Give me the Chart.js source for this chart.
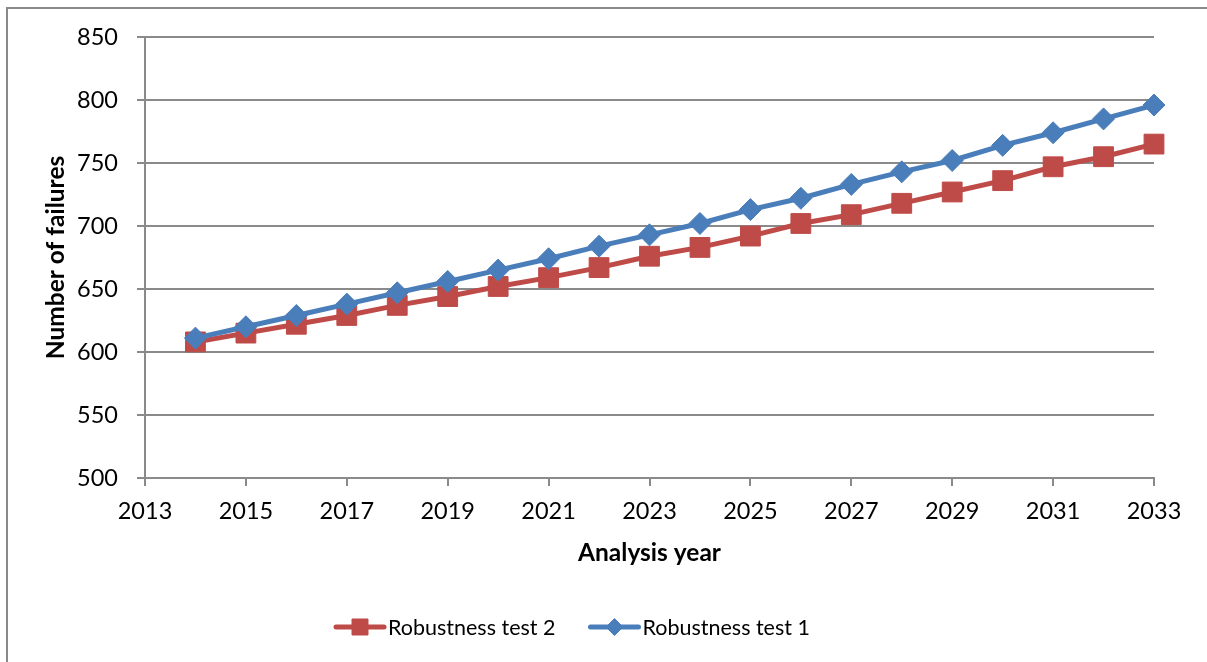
<!DOCTYPE html>
<html>
<head>
<meta charset="utf-8">
<title>Number of failures by analysis year</title>
<script src="https://cdn.jsdelivr.net/npm/chart.js@4.4.1/dist/chart.umd.min.js"></script>
<style>
  html, body { margin: 0; padding: 0; background: #ffffff; }
  canvas { display: block; }
</style>
</head>
<body>
<canvas id="failuresChart" width="1207" height="662"></canvas>
<script>
// Analysis years and failure counts for the two robustness tests
const years = [2014, 2015, 2016, 2017, 2018, 2019, 2020, 2021, 2022, 2023,
               2024, 2025, 2026, 2027, 2028, 2029, 2030, 2031, 2032, 2033];
const robustnessTest1 = [611, 620, 629, 638, 647, 656, 665, 674, 684, 693,
                         702, 713, 722, 733, 743, 752, 764, 774, 785, 796];
const robustnessTest2 = [608, 615, 622, 629, 637, 644, 652, 659, 667, 676,
                         683, 692, 702, 709, 718, 727, 736, 747, 755, 765];
const yearTicks = [2013, 2015, 2017, 2019, 2021, 2023, 2025, 2027, 2029, 2031, 2033];
const seriesNames = ['Robustness test 1', 'Robustness test 2'];

const FONT = 'Lato, "Open Sans", "DejaVu Sans", sans-serif';
const GRID = '#8a8a8a';
const BLUE = '#4a7ebb';
const RED = '#be4b48';

const toPoints = (vals) => years.map((yr, i) => ({ x: yr, y: vals[i] }));

// White page, grey frame on the top and left edges, and the key under the axis
const frameAndKey = {
  id: 'frameAndKey',
  beforeDraw(chart) {
    const ctx = chart.ctx;
    ctx.save();
    ctx.fillStyle = '#ffffff';
    ctx.fillRect(0, 0, chart.width, chart.height);
    ctx.strokeStyle = GRID;
    ctx.lineWidth = 2;
    ctx.beginPath();
    ctx.moveTo(7, chart.height);
    ctx.lineTo(7, 8);
    ctx.lineTo(chart.width, 8);
    ctx.stroke();
    ctx.restore();
  },
  afterDraw(chart) {
    const ctx = chart.ctx;
    const keyY = 627;
    let x = 336;
    ctx.save();
    ctx.font = '21.5px ' + FONT;
    ctx.textBaseline = 'middle';
    ctx.textAlign = 'left';
    // key lists the second series first
    const order = [1, 0];
    const markerSize = { rect: 11.3, rectRot: 8.5 };
    order.forEach((idx) => {
      const ds = chart.data.datasets[idx];
      ctx.strokeStyle = ds.borderColor;
      ctx.lineWidth = 5;
      ctx.lineCap = 'round';
      ctx.beginPath();
      ctx.moveTo(x, keyY);
      ctx.lineTo(x + 48, keyY);
      ctx.stroke();
      ctx.lineCap = 'butt';
      ctx.fillStyle = ds.backgroundColor;
      ctx.strokeStyle = ds.borderColor;
      ctx.lineWidth = 1;
      Chart.helpers.drawPoint(ctx, {
        pointStyle: ds.pointStyle,
        radius: markerSize[ds.pointStyle],
        borderWidth: 1,
        rotation: 0
      }, x + 24, keyY);
      ctx.fillStyle = '#000000';
      ctx.fillText(ds.label, x + 52, keyY + 1);
      x += 52 + ctx.measureText(ds.label).width + 35;
    });
    ctx.restore();
  }
};

new Chart(document.getElementById('failuresChart'), {
  type: 'line',
  data: {
    datasets: [
      {
        label: seriesNames[0],
        data: toPoints(robustnessTest1),
        borderColor: BLUE,
        backgroundColor: BLUE,
        borderWidth: 5,
        pointStyle: 'rectRot',
        pointRadius: 11,
        pointBorderWidth: 1,
        pointHoverRadius: 11,
        tension: 0,
        clip: false
      },
      {
        label: seriesNames[1],
        data: toPoints(robustnessTest2),
        borderColor: RED,
        backgroundColor: RED,
        borderWidth: 5,
        pointStyle: 'rect',
        pointRadius: 14,
        pointBorderWidth: 1,
        pointHoverRadius: 14,
        tension: 0,
        clip: false
      }
    ]
  },
  options: {
    responsive: false,
    animation: false,
    layout: { padding: { top: 37, right: 53, bottom: 84, left: 0 } },
    plugins: {
      legend: { display: false },
      tooltip: { enabled: false }
    },
    scales: {
      x: {
        type: 'linear',
        min: 2013,
        max: 2033,
        afterBuildTicks(scale) {
          scale.ticks = yearTicks.map((v) => ({ value: v }));
        },
        afterFit(scale) { scale.height = 100; },
        grid: {
          display: true,
          drawOnChartArea: false,
          drawTicks: true,
          tickLength: 8,
          color: GRID,
          lineWidth: 2
        },
        border: { display: true, color: GRID, width: 2 },
        ticks: {
          font: { family: FONT, size: 23.5 },
          color: '#000000',
          padding: 11,
          maxRotation: 0,
          autoSkip: false,
          callback: (v) => String(v)
        },
        title: {
          display: true,
          text: 'Analysis year',
          font: { family: FONT, size: 24.5, weight: 'bold' },
          color: '#000000',
          padding: { top: 0, bottom: 10 }
        }
      },
      y: {
        min: 500,
        max: 850,
        afterFit(scale) { scale.width = 145; },
        grid: { color: GRID, lineWidth: 2, tickLength: 8 },
        border: { display: true, color: GRID, width: 2 },
        ticks: {
          stepSize: 50,
          font: { family: FONT, size: 23.5 },
          color: '#000000',
          padding: 19
        },
        title: {
          display: true,
          text: 'Number of failures',
          font: { family: FONT, size: 24.5, weight: 'bold' },
          color: '#000000',
          padding: { top: 41, bottom: 0 }
        }
      }
    }
  },
  plugins: [frameAndKey]
});
</script>
</body>
</html>
